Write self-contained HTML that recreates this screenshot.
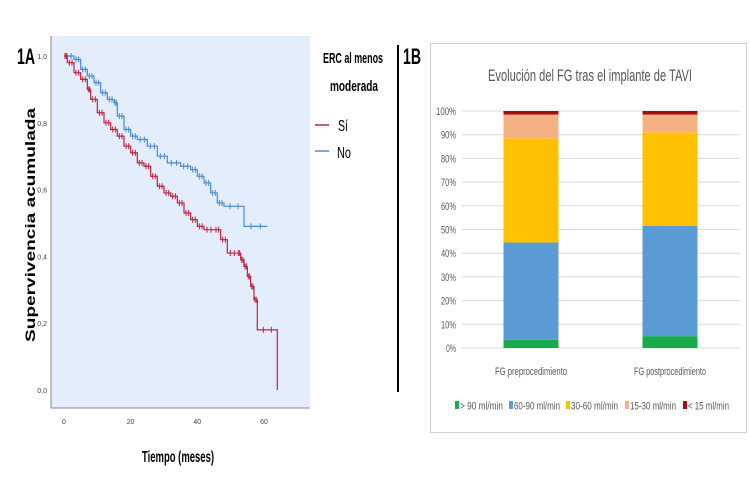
<!DOCTYPE html>
<html><head><meta charset="utf-8"><style>
body{margin:0;background:#fff;width:750px;height:500px;overflow:hidden;font-family:"Liberation Sans",sans-serif}
svg{display:block}
</style></head><body>
<svg width="750" height="500" viewBox="0 0 750 500" id="fig">
<text x="17" y="64" font-size="22" font-weight="bold" textLength="18" lengthAdjust="spacingAndGlyphs">1A</text>
<rect x="51" y="36" width="259" height="372" fill="#e3edfb"/>
<line x1="51" y1="36" x2="51" y2="408" stroke="#888"/>
<line x1="51" y1="408" x2="310" y2="408" stroke="#888"/>
<g id="kmY"></g>
<g id="kmX"></g>
<g id="kmLines"></g>
<text transform="translate(35,225) rotate(-90)" text-anchor="middle" font-size="14" font-weight="bold" textLength="234" lengthAdjust="spacingAndGlyphs">Supervivencia acumulada</text>
<text x="178" y="462" text-anchor="middle" font-size="16" font-weight="bold" textLength="72" lengthAdjust="spacingAndGlyphs">Tiempo (meses)</text>
<text x="353" y="63" text-anchor="middle" font-size="15" font-weight="bold" textLength="60" lengthAdjust="spacingAndGlyphs">ERC al menos</text>
<text x="354" y="91" text-anchor="middle" font-size="15" font-weight="bold" textLength="48" lengthAdjust="spacingAndGlyphs">moderada</text>
<g><line x1="315" y1="125" x2="329" y2="125" stroke="#c0233f" stroke-width="1.5"/><text x="338" y="131" font-size="16" textLength="10" lengthAdjust="spacingAndGlyphs">Sí</text></g>
<g><line x1="315" y1="151" x2="329" y2="151" stroke="#4a8cd0" stroke-width="1.5"/><text x="337" y="158" font-size="16" textLength="14" lengthAdjust="spacingAndGlyphs">No</text></g>
<line x1="398" y1="45" x2="398" y2="392" stroke="#000" stroke-width="2"/>
<text x="403" y="64" font-size="22" font-weight="bold" textLength="18" lengthAdjust="spacingAndGlyphs">1B</text>
<rect x="430.5" y="43.5" width="316" height="389" fill="#fff" stroke="#d0d0d0"/>
<text x="590" y="81" text-anchor="middle" font-size="17" fill="#555" textLength="204" lengthAdjust="spacingAndGlyphs">Evolución del FG tras el implante de TAVI</text>
<g id="bars"></g>
</svg>
<script>
const ns="http://www.w3.org/2000/svg";
function mk(tag,attrs,parent,txt){const e=document.createElementNS(ns,tag);for(const k in attrs)e.setAttribute(k,attrs[k]);if(txt!==undefined)e.textContent=txt;parent.appendChild(e);return e;}
const siTimes=[0,1,3,5,7,8,10,12,14,16,18,20,22,24,26,28,30,32,34,36,38,40,42,45,47,49,52,53,54,55,56,57,58,64];
const siSurv=[1.0,0.98,0.95,0.93,0.90,0.87,0.83,0.80,0.78,0.76,0.73,0.71,0.68,0.67,0.64,0.61,0.59,0.58,0.56,0.53,0.51,0.49,0.48,0.48,0.45,0.41,0.41,0.39,0.37,0.34,0.31,0.27,0.18,0.0];
const noTimes=[0,3,5,7,9,11,13,15,16,18,20,22,25,28,31,35,38,40,42,44,46,48,54,61];
const noSurv=[1.0,0.99,0.96,0.94,0.92,0.89,0.87,0.86,0.82,0.78,0.76,0.75,0.73,0.70,0.68,0.67,0.66,0.64,0.62,0.59,0.56,0.55,0.49,0.49];
const kmYTicks=[0,0.2,0.4,0.6,0.8,1.0];
const kmXTicks=[0,20,40,60];
const kx=t=>64+t*3.333, ky=s=>390-s*334;
const gY=document.getElementById('kmY'),gX=document.getElementById('kmX'),gL=document.getElementById('kmLines');
kmYTicks.forEach(v=>{const t=mk('text',{x:47,y:ky(v)+3,'text-anchor':'end','font-size':7,fill:'#444'},gY,v.toFixed(1).replace('.',','));
});
kmXTicks.forEach(v=>{const t=mk('text',{x:kx(v),y:424,'text-anchor':'middle','font-size':7,fill:'#444'},gX,String(v));
});
function km(times,surv,color,name){
  let d=`M${kx(times[0])},${ky(surv[0])}`;
  for(let i=1;i<times.length;i++){d+=`H${kx(times[i])}V${ky(surv[i])}`;}
  const p=mk('path',{d:d,fill:'none',stroke:color,'stroke-width':1.2},gL);
  
  for(let i=0;i<times.length-1;i++){
    [0.3,0.7].forEach(f=>{const xm=kx(times[i])+(kx(times[i+1])-kx(times[i]))*f;
    const c=mk('line',{x1:xm,x2:xm,y1:ky(surv[i])-3,y2:ky(surv[i])+3,stroke:color,'stroke-width':1},gL);
    });}
}
km(noTimes,noSurv,'#4a8cd0','km-curve-no');
km(siTimes,siSurv,'#c0233f','km-curve-si');
const categories=['FG preprocedimiento','FG postprocedimiento'];
const seriesNames=['> 90 ml/min','60-90 ml/min','30-60 ml/min','15-30 ml/min','< 15 ml/min'];
const s90=[3.5,5];
const s6090=[41,46.5];
const s3060=[44,39.5];
const s1530=[10,7.5];
const s15=[1.5,1.5];
const pctTicks=[0,10,20,30,40,50,60,70,80,90,100];
const colors=['#1aaa4e','#5b9bd5','#ffc000','#f4b183','#a50f15'];
const series=[s90,s6090,s3060,s1530,s15];
const by=v=>348-v*2.37, bx=i=>531+i*139;
const gB=document.getElementById('bars');
pctTicks.forEach(v=>{const l=mk('line',{x1:462,x2:740,y1:by(v),y2:by(v),stroke:'#d9d9d9'},gB);

const lbl=v+'%';
const t=mk('text',{x:456,y:by(v)+4,'text-anchor':'end','font-size':11,fill:'#595959',textLength:lbl.length*5,lengthAdjust:'spacingAndGlyphs'},gB,lbl);
});
categories.forEach((c,i)=>{let acc=0;
  series.forEach((s,j)=>{const r=mk('rect',{x:bx(i)-27.5,width:55,y:by(acc+s[i]),height:by(acc)-by(acc+s[i]),fill:colors[j]},gB);
    acc+=s[i];});
  const t=mk('text',{x:bx(i),y:375,'text-anchor':'middle','font-size':11,fill:'#595959',textLength:72,lengthAdjust:'spacingAndGlyphs'},gB,c);
  });
const lx=[455,509,566,625,683];
const lw=[43,46,47,46,41];
seriesNames.forEach((n,j)=>{const g=mk('g',{},gB);
  
  mk('rect',{x:lx[j],y:401,width:4,height:8,fill:colors[j]},g);
  mk('text',{x:lx[j]+5,y:409.5,'font-size':11,fill:'#595959',textLength:lw[j],lengthAdjust:'spacingAndGlyphs'},g,n);});
</script>
</body></html>
